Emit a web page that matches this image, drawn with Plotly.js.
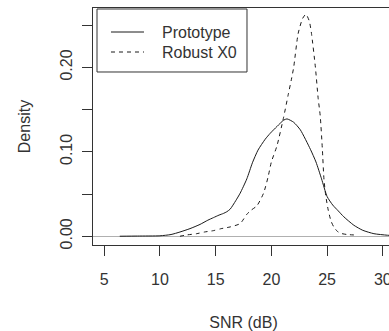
<!DOCTYPE html>
<html>
<head>
<meta charset="utf-8">
<script src="https://cdn.plot.ly/plotly-3.0.1.min.js"></script>
<style>
html, body { margin: 0; padding: 0; overflow: hidden; background: #fff; }
#chart { width: 400px; height: 331px; }
</style>
</head>
<body>
<div id="chart"></div>
<script>
// Prototype density (solid)
var protoX = [6.4, 8.0, 10.0, 11.0, 11.8, 12.7, 13.6, 14.3, 14.8, 15.3, 15.7, 16.0, 16.3, 16.8, 17.2, 17.8, 18.3, 18.8, 19.45, 19.9, 20.5, 21.1, 21.4, 22.0, 22.6, 23.5, 24.0, 24.5, 25.0, 25.5, 26.0, 26.5, 27.4, 28.2, 29.2, 30.4, 31.5];
var protoY = [0.0, 0.0002, 0.0005, 0.002, 0.005, 0.009, 0.014, 0.019, 0.022, 0.025, 0.027, 0.029, 0.032, 0.042, 0.051, 0.068, 0.087, 0.102, 0.115, 0.122, 0.130, 0.1375, 0.139, 0.135, 0.126, 0.103, 0.088, 0.068, 0.047, 0.037, 0.030, 0.023, 0.013, 0.007, 0.003, 0.0012, 0.0003];

// Robust X0 density (dashed)
var robustX = [11.8, 12.4, 13.3, 14.0, 14.8, 15.5, 16.3, 17.2, 17.8, 18.2, 18.7, 19.3, 19.7, 20.0, 20.5, 21.1, 21.5, 21.8, 22.0, 22.4, 22.8, 23.1, 23.4, 23.6, 23.95, 24.2, 24.38, 24.57, 24.72, 24.88, 25.1, 25.35, 25.6, 25.9, 26.2, 26.8, 27.4];
var robustY = [0.0, 0.0015, 0.003, 0.005, 0.0066, 0.009, 0.011, 0.015, 0.026, 0.031, 0.036, 0.051, 0.070, 0.088, 0.107, 0.141, 0.167, 0.186, 0.200, 0.240, 0.258, 0.263, 0.255, 0.240, 0.200, 0.163, 0.143, 0.104, 0.067, 0.048, 0.031, 0.018, 0.011, 0.006, 0.0035, 0.002, 0.0015];

var seriesNames = ["Prototype", "Robust X0"];
var xTickVals = [5, 10, 15, 20, 25, 30];
var xTickText = ["5", "10", "15", "20", "25", "30"];
var yTickVals = [0, 0.05, 0.10, 0.15, 0.20, 0.25];
var yTickText = ["0.00", "", "0.10", "", "0.20", ""];

var FONT = "Liberation Sans, Arial, sans-serif";
var TXT = "#333";
var INK = "#1a1a1a";

var traces = [
  { x: protoX, y: protoY, name: seriesNames[0], type: "scatter", mode: "lines", showlegend: false,
    line: { color: INK, width: 1, shape: "spline", smoothing: 0.6 } },
  { x: robustX, y: robustY, name: seriesNames[1], type: "scatter", mode: "lines", showlegend: false,
    line: { color: INK, width: 1, dash: "4px,4px", shape: "spline", smoothing: 0.6 } }
];

// Legend box drawn in paper coordinates (R-style legend)
var legendShapes = [
  { type: "rect", xref: "paper", yref: "paper", x0: 0.0133, x1: 0.5116, y0: 0.730, y1: 0.9958,
    line: { color: "#333", width: 1 }, fillcolor: "#fff", layer: "above" },
  { type: "line", xref: "paper", yref: "paper", x0: 0.0598, x1: 0.1694, y0: 0.8987, y1: 0.8987,
    line: { color: INK, width: 1 }, layer: "above" },
  { type: "line", xref: "paper", yref: "paper", x0: 0.0598, x1: 0.1694, y0: 0.8143, y1: 0.8143,
    line: { color: INK, width: 1, dash: "4px,4px" }, layer: "above" }
];
var legendAnnotations = [
  { xref: "paper", yref: "paper", x: 0.2226, y: 0.8987, xanchor: "left", yanchor: "middle",
    text: seriesNames[0], showarrow: false, font: { family: FONT, size: 16, color: TXT } },
  { xref: "paper", yref: "paper", x: 0.2226, y: 0.8143, xanchor: "left", yanchor: "middle",
    text: seriesNames[1], showarrow: false, font: { family: FONT, size: 16, color: TXT } }
];

var layout = {
  width: 400, height: 331,
  margin: { l: 93, r: 6, t: 8, b: 86, pad: 0 },
  paper_bgcolor: "#fff", plot_bgcolor: "#fff",
  font: { family: FONT, size: 16, color: TXT },
  showlegend: false,
  shapes: legendShapes,
  annotations: legendAnnotations,
  xaxis: {
    range: [4, 31], tickmode: "array", tickvals: xTickVals, ticktext: xTickText,
    ticks: "outside", ticklen: 10, tickcolor: "#333", tickwidth: 1,
    ticklabelstandoff: 10,
    showline: true, mirror: true, linecolor: "#333", linewidth: 1,
    showgrid: false, zeroline: false,
    tickfont: { family: FONT, size: 16, color: TXT },
    title: { text: "SNR (dB)", font: { family: FONT, size: 16, color: TXT }, standoff: 30 }
  },
  yaxis: {
    range: [-0.0104, 0.2704], tickmode: "array", tickvals: yTickVals, ticktext: yTickText,
    tickangle: -90,
    ticks: "outside", ticklen: 10, tickcolor: "#333", tickwidth: 1,
    ticklabelstandoff: 4,
    showline: true, mirror: true, linecolor: "#333", linewidth: 1,
    showgrid: false, zeroline: true, zerolinecolor: "#b0b0b0", zerolinewidth: 1,
    tickfont: { family: FONT, size: 16, color: TXT },
    title: { text: "Density", font: { family: FONT, size: 16, color: TXT }, standoff: 22 }
  }
};

Plotly.newPlot("chart", traces, layout, { displayModeBar: false, staticPlot: true });
</script>
</body>
</html>
